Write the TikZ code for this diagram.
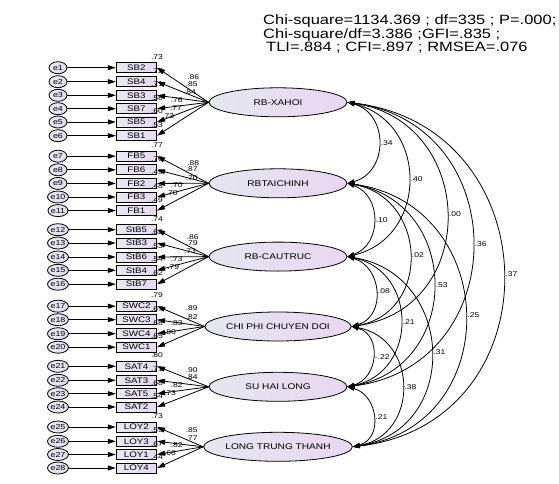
\documentclass[tikz,border=0pt]{standalone}
\usepackage{fontspec}
\setmainfont{Liberation Sans}
\newfontfamily\wf{Liberation Sans}[FakeStretch=1.22]
\usetikzlibrary{shapes.geometric,arrows.meta,calc}
\definecolor{latL}{HTML}{E4E7F0}
\definecolor{latR}{HTML}{EAD6F2}
\definecolor{boxL}{HTML}{E8E8F2}
\definecolor{boxR}{HTML}{E6DAF0}
\newcommand\covarc[4]{%
  \draw[cov] let \p1=(#1.east), \p2=(#2.east), \n1={(\y1-\y2)/2}, \n2={2/3*(\n1-#3*(#3/\n1))} in
   (\p1) .. controls ($(\p1)+({1.3333*#3*1pt},{-\n2*1pt})$) and ($(\p2)+({1.3333*#3*1pt},{\n2*1pt})$) .. (\p2)
   node[num,pos=.5,anchor=west,xshift=2pt]{#4};}
\begin{document}
\begin{tikzpicture}[x=1pt,y=-1pt,
  lat/.style={ellipse,draw,line width=0.8pt,minimum width=138pt,minimum height=29pt,inner sep=0pt,left color=latL,right color=latR,font=\wf\fontsize{8.3}{8.3}\selectfont},
  ind/.style={rectangle,draw,line width=0.8pt,minimum width=40.5pt,minimum height=10pt,inner sep=0pt,left color=boxL,right color=boxR,font=\wf\fontsize{8}{8}\selectfont},
  errv/.style={ellipse,draw,line width=0.8pt,minimum width=18pt,minimum height=12pt,inner sep=0pt,left color=boxL,right color=boxR,font=\wf\fontsize{7.3}{7.3}\selectfont},
  num/.style={font=\wf\fontsize{7}{7}\selectfont,inner sep=0pt},
  arr/.style={line width=0.8pt,-{Triangle[length=8pt,width=5pt]}},
  cov/.style={line width=0.8pt,{Triangle[length=7pt,width=4.5pt]}-{Triangle[length=7pt,width=4.5pt]}},
]
\useasboundingbox (0,0) rectangle (559,484);
\fill[white] (0,0) rectangle (559,484);

\node[anchor=north west, align=left, inner sep=0pt, font=\wf\fontsize{13.5}{12.5}\selectfont] (fit) at (263,15)
 {Chi-square=1134.369 ; df=335 ; P=.000;\\Chi-square/df=3.386 ;GFI=.835 ;\\\hspace{3pt}TLI=.884 ; CFI=.897 ; RMSEA=.076};

\node[lat] (L1) at (278,102.3) {RB-XAHOI};
\node[lat] (L2) at (278,183.3) {RBTAICHINH};
\node[lat] (L3) at (278,256.6) {RB-CAUTRUC};
\node[lat] (L4) at (278,326.5) {CHI PHI CHUYEN DOI};
\node[lat] (L5) at (278,386.8) {SU HAI LONG};
\node[lat] (L6) at (278,446.8) {LONG TRUNG THANH};

\foreach \nm/\yy/\ee/\rr/\ld/\lx/\ly/\lt in {
 SB2/67.7/1/.73/.86/193.3/77.3/L1,
 SB4/81.7/2/.72/.85/191.7/84.3/L1,
 SB3/95.3/3/.71/.84/190/91.7/L1,
 SB7/108.7/4/.58/.76/176.7/100/L1,
 SB5/122/5/.60/.77/176/108.3/L1,
 SB1/135.7/6/.53/.73/168.3/115.7/L1,
 FB5/156.2/7/.77/.88/193.3/162.7/L2,
 FB6/169.8/8/.76/.87/191.7/169.3/L2,
 FB2/183.4/9/.49/.70/191.7/177.7/L2,
 FB3/197/10/.48/.70/176.7/185/L2,
 FB1/210.6/11/.49/.70/171.7/193.3/L2,
 StB5/229.7/12/.74/.86/192.7/236.7/L3,
 StB3/243/13/.62/.79/191.7/243.3/L3,
 StB6/257/14/.53/.73/190/251/L3,
 StB4/270.3/15/.54/.73/176.7/259/L3,
 StB7/284.2/16/.62/.79/173.3/266.7/L3,
 SWC2/306.2/17/.79/.89/191.7/308.3/L4,
 SWC3/319.7/18/.67/.82/191.7/316.7/L4,
 SWC4/333.7/19/.68/.83/176.7/323.3/L4,
 SWC1/347.2/20/.65/.80/170/332.3/L4,
 SAT4/366.3/21/.80/.90/191.7/370/L5,
 SAT3/380.3/22/.71/.84/191.7/376.7/L5,
 SAT5/393.7/23/.68/.82/176.7/385/L5,
 SAT2/407/24/.54/.73/170/393.3/L5,
 LOY2/427/25/.73/.85/191.7/430/L6,
 LOY3/441.3/26/.59/.77/191.7/438.3/L6,
 LOY1/454.5/27/.67/.82/176.7/445/L6,
 LOY4/468/28/.44/.66/170/453.3/L6}{
  \node[ind] (\nm) at (136.4,\yy) {\nm};
  \node[errv] (e\ee) at (58,\yy) {e\ee};
  \draw[arr] (e\ee) -- (\nm);
  \draw[arr] (\lt.west) -- (\nm.east);
  \node[num] (r\nm) at ($(\nm.north east)+(0,-5.5)$) {\rr};
  \node[num] (w\nm) at (\lx,\ly) {\ld};
}

\covarc{L1}{L2}{31}{.34}
\covarc{L1}{L3}{61}{.40}
\covarc{L1}{L4}{97}{.00}
\covarc{L1}{L5}{125}{.36}
\covarc{L1}{L6}{153}{.37}
\covarc{L2}{L3}{26}{.10}
\covarc{L2}{L4}{60}{.02}
\covarc{L2}{L5}{86}{.53}
\covarc{L2}{L6}{115}{.25}
\covarc{L3}{L4}{26}{.08}
\covarc{L3}{L5}{53}{.21}
\covarc{L3}{L6}{81}{.31}
\covarc{L4}{L5}{23}{-.22}
\covarc{L4}{L6}{50}{.38}
\covarc{L5}{L6}{23}{.21}
\end{tikzpicture}
\end{document}
